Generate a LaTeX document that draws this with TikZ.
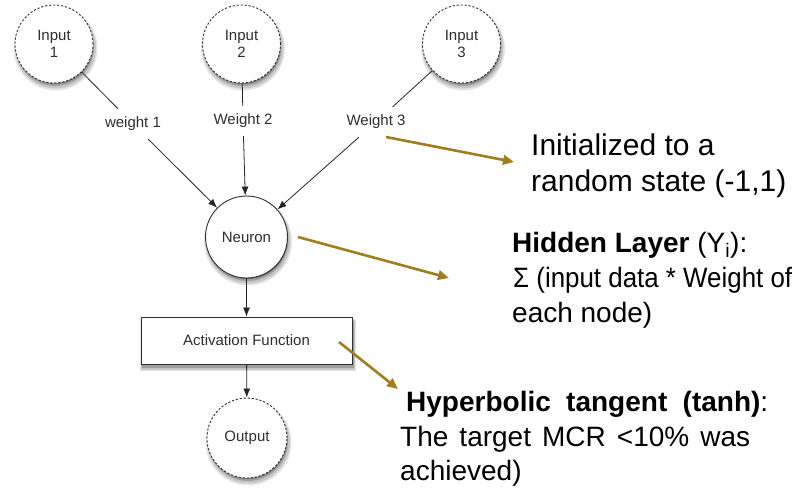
\documentclass[tikz,border=0pt]{standalone}
\usepackage{fontspec}
\setmainfont{Liberation Sans}
\usetikzlibrary{arrows.meta}
\definecolor{gold}{HTML}{A07D1E}
\definecolor{ink}{HTML}{2E2E2E}
\begin{document}
\begin{tikzpicture}[x=1pt,y=-1pt,
  lab/.style={font=\fontsize{15}{17}\selectfont, text=ink},
  inp/.style={circle, draw=ink, dash pattern=on 2.2pt off 1.8pt, line width=0.9pt, fill=white,
              minimum size=78pt, inner sep=0pt, align=center, lab},
  neur/.style={circle, draw=ink, line width=0.9pt, fill=white, minimum size=82pt, inner sep=0pt, lab},
  actbox/.style={rectangle, draw=ink, line width=0.9pt, fill=white, minimum width=211pt, minimum height=47pt, lab},
  wlab/.style={lab, inner xsep=4pt, inner ysep=8pt},
  conn/.style={draw=black!85, line width=0.8pt},
  arr/.style={conn, -{Latex[length=9pt,width=7pt]}},
  goldarr/.style={draw=gold, line width=2.6pt, -{Triangle[length=11pt,width=9.5pt]}},
  ann/.style={anchor=base west, inner sep=0pt, text=black},
  big/.style={font=\fontsize{30}{36}\selectfont},
  mid/.style={font=\fontsize{28}{34}\selectfont},
  sh1/.style={fill=black!10},
  sh2/.style={fill=black!22},
  sh3/.style={fill=black!38},
  sh4/.style={fill=black!55}
]
\useasboundingbox (0,0) rectangle (795,488);

% soft shadows (drawn first, underneath the shapes)
\foreach \x/\y/\r in {54/44/39, 241.5/44/39, 461.5/44/39, 246.5/237/41, 247/438/40}{
  \fill[sh1] (\x+1.5,\y+4.5) circle ({\r+3});
  \fill[sh2] (\x+1.5,\y+4) circle ({\r+1.5});
  \fill[sh3] (\x+1,\y+3) circle ({\r});
  \fill[sh4] (\x+1,\y+2) circle ({\r-1});
}
\fill[sh1] (139.5,319) rectangle (356,371);
\fill[sh2] (140.5,320) rectangle (355,369.5);
\fill[sh3] (141.5,320.5) rectangle (354,368);

% nodes
\node[inp] (in1) at (54,44) {Input\\1};
\node[inp] (in2) at (241.5,44) {Input\\2};
\node[inp] (in3) at (461.5,44) {Input\\3};
\node[neur] (neuron) at (246.5,237) {Neuron};
\node[actbox] (act) at (246.5,340.5) {Activation Function};
\node[inp, minimum size=80pt] (out) at (247,438) {Output};

\node[wlab] (w1) at (133,124) {weight 1};
\node[wlab] (w2) at (243,121) {Weight 2};
\node[wlab] (w3) at (376,122) {Weight 3};

% connectors
\draw[conn] (in1) -- (w1);
\draw[arr] (w1) -- (neuron);
\draw[conn] (in2) -- (w2);
\draw[arr] (w2) -- (neuron);
\draw[conn] (in3) -- (w3);
\draw[arr] (w3) -- (neuron);
\draw[arr] (neuron) -- (act);
\draw[arr] (act) -- (out);

% annotations
\node[ann,big] (a1l1) at (531,155) {Initialized to a};
\node[ann,big] (a1l2) at (531,191) {random state (-1,1)};

\node[ann,mid] (a2l1) at (512,252) {\textbf{Hidden Layer} (Y\textsubscript{i}):};
\node[ann,mid] (a2l2) at (513,287) {\resizebox{279pt}{\height}{Σ (input data * Weight of}};
\node[ann,mid] (a2l3) at (512,322) {each node)};

\node[ann,mid] (a3l1) at (406,411) {\makebox[362pt][s]{\textbf{Hyperbolic tangent (tanh)}:}};
\node[ann,mid] (a3l2) at (400,446) {\makebox[350pt][s]{The target MCR <10\% was}};
\node[ann,mid] (a3l3) at (400,480) {achieved)};

% gold pointer arrows
\coordinate (g1a) at (386,137);
\coordinate (g1b) at (514,162);
\coordinate (g2a) at (298,237);
\coordinate (g2b) at (449,278);
\coordinate (g3a) at (339,342);
\coordinate (g3b) at (398,389);
\draw[goldarr] (g1a) -- (g1b);
\draw[goldarr] (g2a) -- (g2b);
\draw[goldarr] (g3a) -- (g3b);
\end{tikzpicture}
\end{document}
